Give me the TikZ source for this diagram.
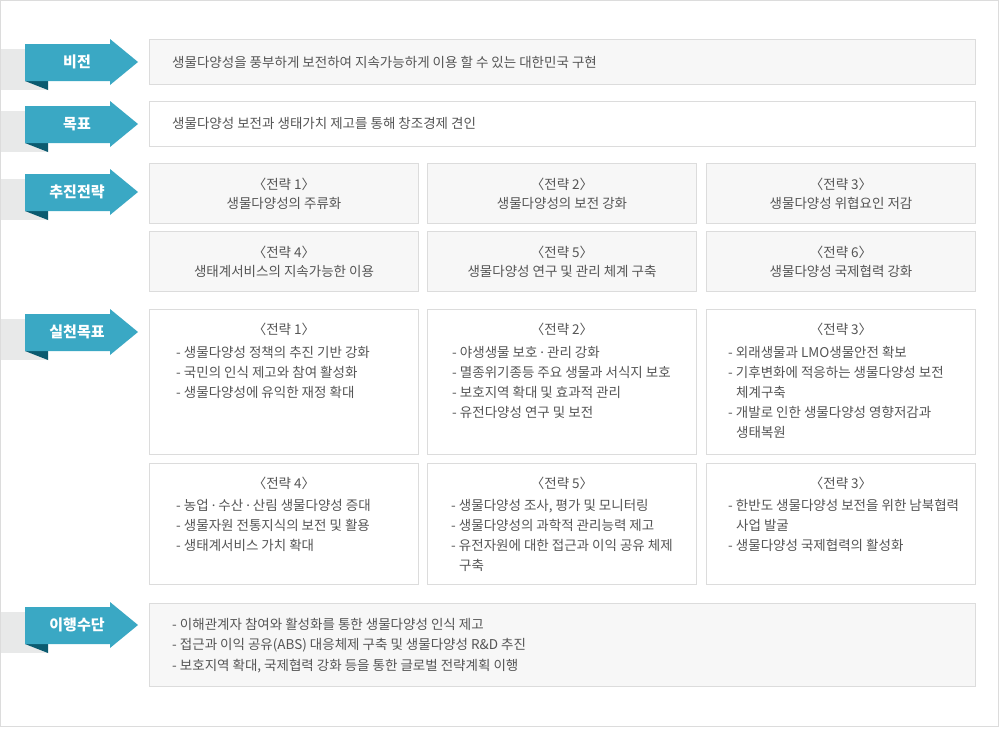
\documentclass[tikz,border=0pt]{standalone}
\usepackage{fontspec}
\setmainfont{Noto Sans CJK KR}
\newfontfamily\latinf{Noto Sans}
\definecolor{ribbonblue}{HTML}{3AA8C4}
\definecolor{ribbondark}{HTML}{0B5B70}
\definecolor{bandgray}{HTML}{E8E9E9}
\definecolor{boxline}{HTML}{DCDCDC}
\definecolor{boxfill}{HTML}{F7F7F7}
\definecolor{txt}{HTML}{555555}
\newcommand\ribbon[3]{%
  \fill[bandgray] (1,#2-13) rectangle (48,#2+28);
  \fill[ribbondark] (25,#2+19) -- (48,#2+19) -- (48,#2+28) -- cycle;
  \fill[ribbonblue] (25,#2-18) -- (110,#2-18) -- (110,#2-23) -- (138,#2) -- (110,#2+23) -- (110,#2+19) -- (25,#2+19) -- cycle;
  \node[lab] (#1) at (77,#2) {#3};}
\newcommand\plist[4]{%
  \foreach \t [count=\i] in {#4} {\node[body, anchor=base west] (#1-\i) at (#2,#3+20*\i-20) {\t};}}
\newcommand\ind{\hspace*{8pt}}
\newcommand\md{{\latinf ·}}
\begin{document}
\begin{tikzpicture}[x=1pt,y=-1pt,
  box/.style={draw=boxline, line width=1pt},
  graybox/.style={box, fill=boxfill},
  whitebox/.style={box, fill=white},
  body/.style={inner sep=0pt, text=txt, font=\fontsize{13.5}{15}\selectfont},
  lab/.style={inner sep=0pt, text=white, font=\fontsize{15}{17}\selectfont\bfseries}]
\useasboundingbox (0,0) rectangle (1000,728);
\fill[white] (0,0) rectangle (1000,728);
\draw[boxline, line width=1pt] (0.5,0.5) rectangle (998.5,726.5);

% ribbons
\ribbon{lvision}{62}{비전}
\ribbon{lgoal}{124}{목표}
\ribbon{lstrat}{192}{추진전략}
\ribbon{lprac}{332}{실천목표}
\ribbon{lmeans}{625}{이행수단}

% vision / goal
\draw[graybox] (149.5,39.5) rectangle (975.5,84.5);
\node[body, anchor=base west] (vision) at (172,67) {생물다양성을 풍부하게 보전하여 지속가능하게 이용 할 수 있는 대한민국 구현};
\draw[whitebox] (149.5,101.5) rectangle (975.5,146.5);
\node[body, anchor=base west] (goal) at (172,128.5) {생물다양성 보전과 생태가치 제고를 통해 창조경제 견인};

% strategies
\foreach \xa/\xb in {149.5/418.5, 427.5/696.5, 706.5/975.5} {
  \draw[graybox] (\xa,163.5) rectangle (\xb,223.5);
  \draw[graybox] (\xa,231.5) rectangle (\xb,291.5);
}
\node[body, anchor=base] (s1t) at (284,189) {〈전략 1〉};
\node[body, anchor=base] (s1s) at (284,208) {생물다양성의 주류화};
\node[body, anchor=base] (s2t) at (562,189) {〈전략 2〉};
\node[body, anchor=base] (s2s) at (562,208) {생물다양성의 보전 강화};
\node[body, anchor=base] (s3t) at (841,189) {〈전략 3〉};
\node[body, anchor=base] (s3s) at (841,208) {생물다양성 위협요인 저감};
\node[body, anchor=base] (s4t) at (284,257) {〈전략 4〉};
\node[body, anchor=base] (s4s) at (284,276) {생태계서비스의 지속가능한 이용};
\node[body, anchor=base] (s5t) at (562,257) {〈전략 5〉};
\node[body, anchor=base] (s5s) at (562,276) {생물다양성 연구 및 관리 체계 구축};
\node[body, anchor=base] (s6t) at (841,257) {〈전략 6〉};
\node[body, anchor=base] (s6s) at (841,276) {생물다양성 국제협력 강화};

% practice goals
\foreach \xa/\xb in {149.5/418.5, 427.5/696.5, 706.5/975.5} {
  \draw[whitebox] (\xa,309.5) rectangle (\xb,454.5);
  \draw[whitebox] (\xa,463.5) rectangle (\xb,584.5);
}
\node[body, anchor=base] (p1t) at (284,334) {〈전략 1〉};
\plist{p1}{176}{357}{- 생물다양성 정책의 추진 기반 강화, - 국민의 인식 제고와 참여 활성화, - 생물다양성에 유익한 재정 확대}
\node[body, anchor=base] (p2t) at (562,334) {〈전략 2〉};
\plist{p2}{452}{357}{- 야생생물 보호 \md{} 관리 강화, - 멸종위기종등 주요 생물과 서식지 보호, - 보호지역 확대 및 효과적 관리, - 유전다양성 연구 및 보전}
\node[body, anchor=base] (p3t) at (841,334) {〈전략 3〉};
\plist{p3}{728}{357}{- 외래생물과 LMO생물안전 확보, - 기후변화에 적응하는 생물다양성 보전, \ind 체계구축, - 개발로 인한 생물다양성 영향저감과, \ind 생태복원}
\node[body, anchor=base] (p4t) at (284,488) {〈전략 4〉};
\plist{p4}{176}{510}{- 농업 \md{} 수산 \md{} 산림 생물다양성 증대, - 생물자원 전통지식의 보전 및 활용, - 생태계서비스 가치 확대}
\node[body, anchor=base] (p5t) at (562,488) {〈전략 5〉};
\plist{p5}{451}{510}{{- 생물다양성 조사, 평가 및 모니터링}, - 생물다양성의 과학적 관리능력 제고, - 유전자원에 대한 접근과 이익 공유 체제, \ind 구축}
\node[body, anchor=base] (p6t) at (841,488) {〈전략 3〉};
\plist{p6}{728}{510}{- 한반도 생물다양성 보전을 위한 남북협력, \ind 사업 발굴, - 생물다양성 국제협력의 활성화}

% means
\draw[graybox] (149.5,603.5) rectangle (975.5,686.5);
\node[body, anchor=base west] (m1) at (172,629) {- 이해관계자 참여와 활성화를 통한 생물다양성 인식 제고};
\node[body, anchor=base west] (m2) at (172,649.5) {- 접근과 이익 공유(ABS) 대응체제 구축 및 생물다양성 R\&D 추진};
\node[body, anchor=base west] (m3) at (172,670) {- 보호지역 확대, 국제협력 강화 등을 통한 글로벌 전략계획 이행};
\end{tikzpicture}
\end{document}
